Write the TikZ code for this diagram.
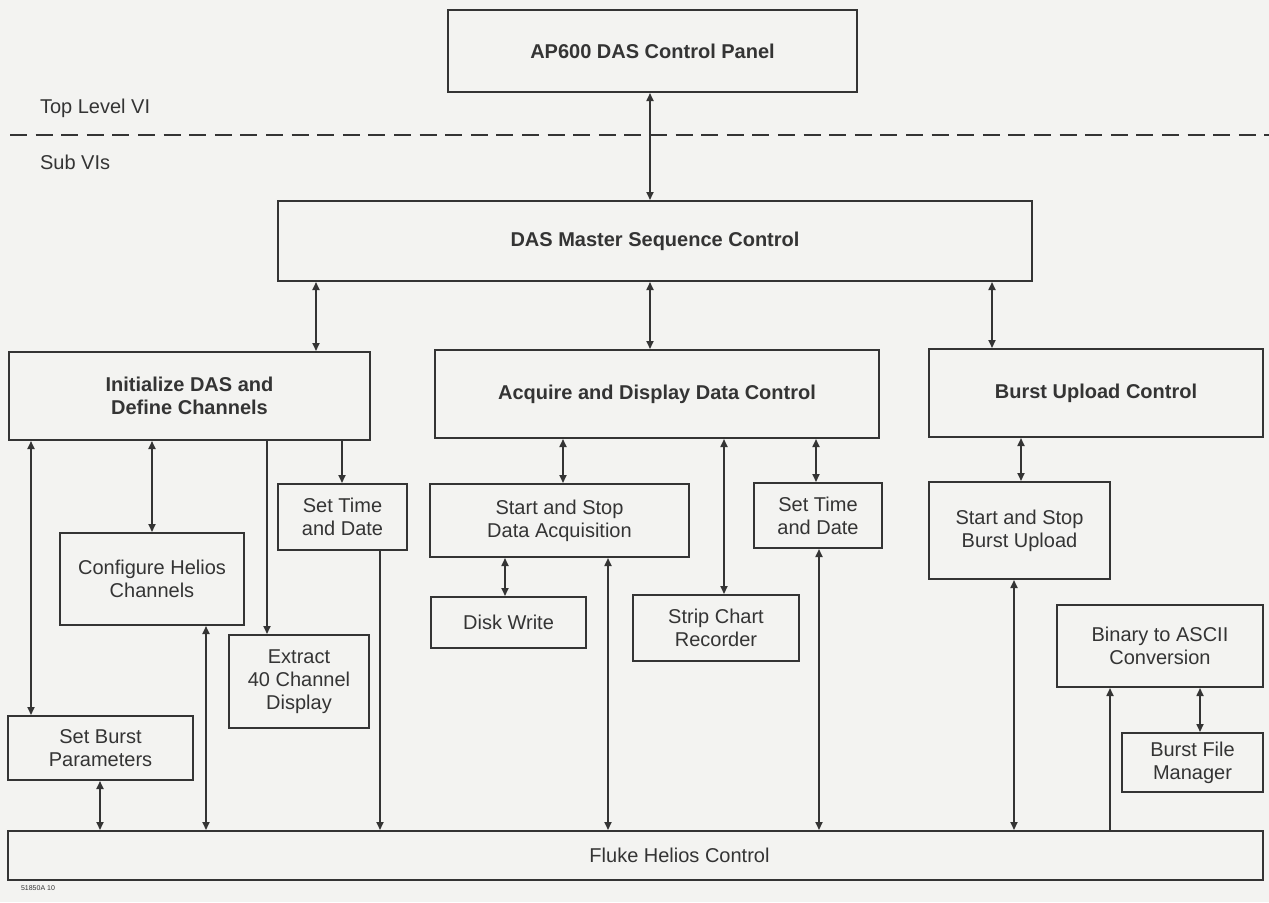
\documentclass[tikz,border=0pt]{standalone}
\usepackage{fontspec}
\setmainfont{Liberation Sans}
\usetikzlibrary{arrows.meta}
\definecolor{paper}{RGB}{243,243,241}
\definecolor{ink}{RGB}{52,52,52}
\begin{document}
\begin{tikzpicture}[x=0.5pt, y=-0.5pt,
	vibox/.style={draw=ink, line width=1pt, text=ink, align=center, inner sep=0pt, font=\fontsize{10}{11.5}\selectfont},
	bvibox/.style={vibox, font=\fontsize{10}{11.5}\selectfont\bfseries},
	link/.style={draw=ink, line width=0.85pt},
	>={Triangle[length=4pt,width=3.5pt]}]
			\fill[paper] (0,0) rectangle (1269,902);
			\useasboundingbox (0,0) rectangle (1269,902);
			% top level
			\node[bvibox, minimum width=204.5pt, minimum height=41pt] (panel) at (652.5,51) {AP600 DAS Control Panel};
			\node[anchor=west, text=ink, font=\fontsize{10}{11.5}\selectfont] (toplbl) at (33,108) {Top Level VI};
			\node[anchor=west, text=ink, font=\fontsize{10}{11.5}\selectfont] (sublbl) at (33,162) {Sub VIs};
			\draw[ink, line width=0.9pt, dash pattern=on 8.5pt off 4.3pt] (10,135) -- (1269,135);
			% sub VIs
			\node[bvibox, minimum width=377pt, minimum height=40pt] (master) at (655,241) {DAS Master Sequence Control};
			\node[bvibox, minimum width=180.5pt, minimum height=44pt] (init) at (189.5,396) {Initialize DAS and\\Define Channels};
			\node[bvibox, minimum width=222pt, minimum height=44pt] (acquire) at (657,394) {Acquire and Display Data Control};
			\node[bvibox, minimum width=167pt, minimum height=44pt] (burst) at (1096,393) {Burst Upload Control};
			\node[vibox, minimum width=92pt, minimum height=46pt] (config) at (152,579) {Configure Helios\\Channels};
			\node[vibox, minimum width=64.5pt, minimum height=33pt] (timeL) at (342.5,517) {Set Time\\and Date};
			\node[vibox, minimum width=70pt, minimum height=46.5pt] (extract) at (299,681.5) {Extract\\40 Channel\\Display};
			\node[vibox, minimum width=92.5pt, minimum height=32pt] (setburst) at (100.5,748) {Set Burst\\Parameters};
			\node[vibox, minimum width=129.5pt, minimum height=36.5pt] (startdaq) at (559.5,520.5) {Start and Stop\\Data Acquisition};
			\node[vibox, minimum width=77.5pt, minimum height=25.5pt] (disk) at (508.5,622.5) {Disk Write};
			\node[vibox, minimum width=83pt, minimum height=33pt] (strip) at (716,628) {Strip Chart\\Recorder};
			\node[vibox, minimum width=64pt, minimum height=32.5pt] (timeR) at (818,515.5) {Set Time\\and Date};
			\node[vibox, minimum width=90.5pt, minimum height=48.5pt] (startburst) at (1019.5,530.5) {Start and Stop\\Burst Upload};
			\node[vibox, minimum width=103pt, minimum height=41pt] (binary) at (1160,646) {Binary to ASCII\\Conversion};
			\node[vibox, minimum width=70.5pt, minimum height=29.5pt] (filemgr) at (1192.5,762.5) {Burst File\\Manager};
			\node[vibox, minimum width=627.5pt, minimum height=24.5pt,
				label={[text=ink, xshift=22pt, font=\fontsize{10}{11.5}\selectfont]center:Fluke Helios Control}] (fluke) at (635.5,855.5) {};
			\node[anchor=west, text=ink, font=\fontsize{3.5}{4}\selectfont] (figno) at (14,888) {51850A 10};
			% connectors
			\draw[link, <->] (650,0 |- panel.south) -- (650,0 |- master.north);
			\draw[link, <->] (316,0 |- master.south) -- (316,0 |- init.north);
			\draw[link, <->] (650,0 |- master.south) -- (650,0 |- acquire.north);
			\draw[link, <->] (992,0 |- master.south) -- (992,0 |- burst.north);
			\draw[link, <->] (31,0 |- init.south) -- (31,0 |- setburst.north);
			\draw[link, <->] (152,0 |- init.south) -- (152,0 |- config.north);
			\draw[link, ->] (267,0 |- init.south) -- (267,0 |- extract.north);
			\draw[link, ->] (342,0 |- init.south) -- (342,0 |- timeL.north);
			\draw[link, <->] (206,0 |- config.south) -- (206,0 |- fluke.north);
			\draw[link, ->] (380,0 |- timeL.south) -- (380,0 |- fluke.north);
			\draw[link, <->] (100,0 |- setburst.south) -- (100,0 |- fluke.north);
			\draw[link, <->] (563,0 |- acquire.south) -- (563,0 |- startdaq.north);
			\draw[link, <->] (505,0 |- startdaq.south) -- (505,0 |- disk.north);
			\draw[link, <->] (608,0 |- startdaq.south) -- (608,0 |- fluke.north);
			\draw[link, <->] (724,0 |- acquire.south) -- (724,0 |- strip.north);
			\draw[link, <->] (816,0 |- acquire.south) -- (816,0 |- timeR.north);
			\draw[link, <->] (819,0 |- timeR.south) -- (819,0 |- fluke.north);
			\draw[link, <->] (1021,0 |- burst.south) -- (1021,0 |- startburst.north);
			\draw[link, <->] (1014,0 |- startburst.south) -- (1014,0 |- fluke.north);
			\draw[link, ->] (1110,0 |- fluke.north) -- (1110,0 |- binary.south);
			\draw[link, <->] (1200,0 |- binary.south) -- (1200,0 |- filemgr.north);
		\end{tikzpicture}
\end{document}
